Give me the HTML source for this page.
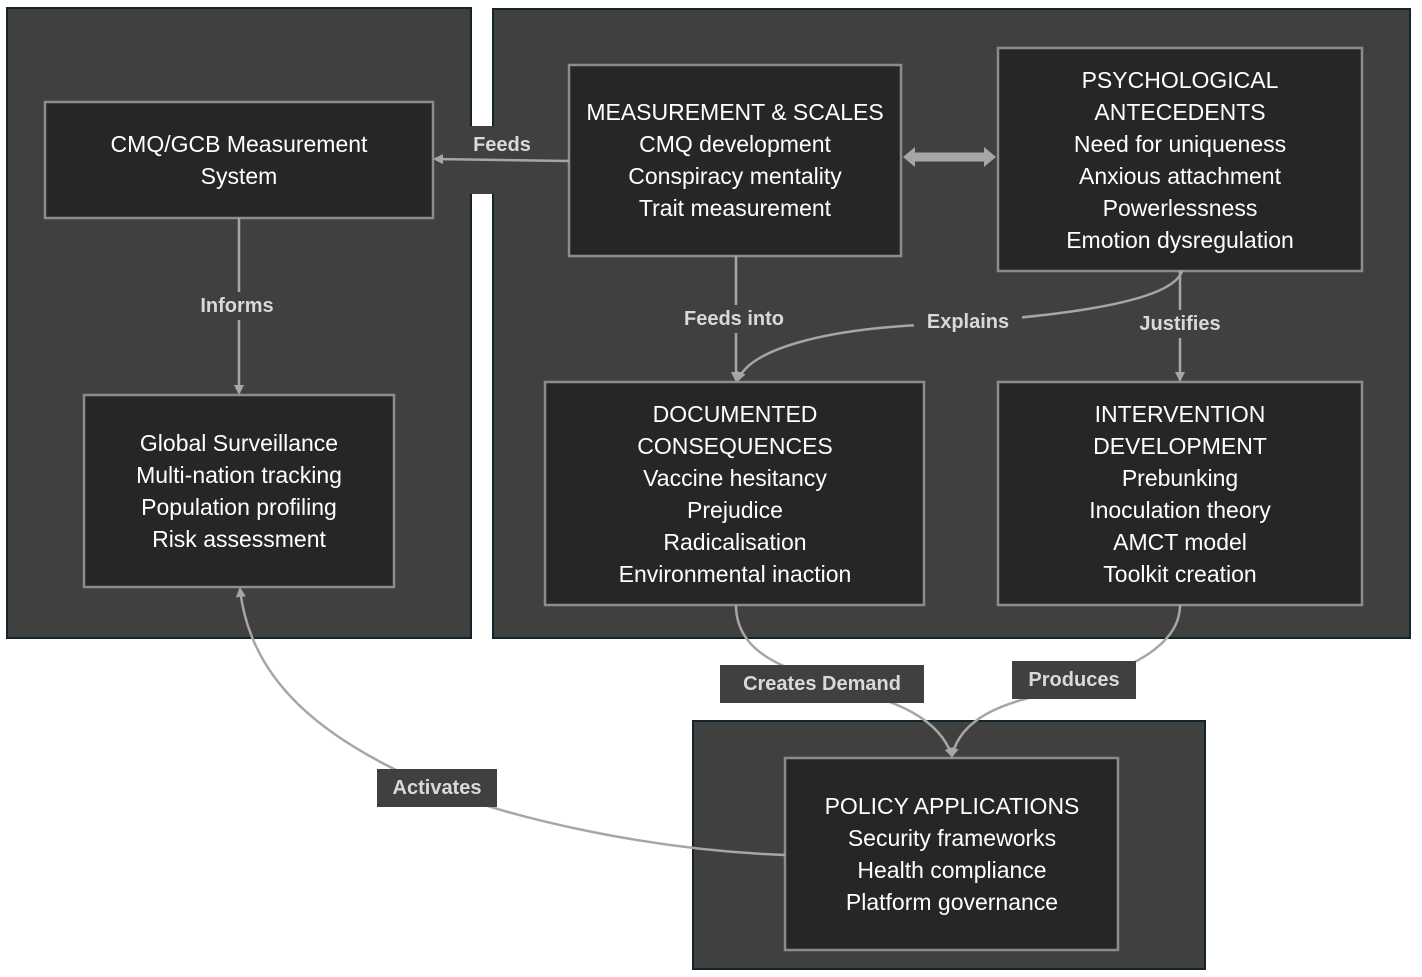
<!DOCTYPE html>
<html><head><meta charset="utf-8"><style>body{margin:0;background:#fff}svg{display:block}</style></head><body>
<svg width="1422" height="977" viewBox="0 0 1422 977" xmlns="http://www.w3.org/2000/svg" font-family="Liberation Sans, sans-serif">
<defs><marker id="a" markerWidth="10" markerHeight="10" refX="8" refY="5" orient="auto" markerUnits="userSpaceOnUse"><path d="M0,0 L10,5 L0,10 z" fill="#a6a6a6"/></marker></defs>
<rect x="7" y="8" width="464" height="630" fill="#404040" stroke="#13232c" stroke-width="2"/>
<rect x="493" y="9" width="917" height="629" fill="#404040" stroke="#13232c" stroke-width="2"/>
<rect x="693" y="721" width="512" height="248" fill="#404040" stroke="#13232c" stroke-width="2"/>
<rect x="466" y="126" width="32" height="68" fill="#404040"/>
<g fill="#262626" stroke="#8c8c8c" stroke-width="2.5">
<rect x="45" y="102" width="388" height="116"/>
<rect x="84" y="395" width="310" height="192"/>
<rect x="569" y="65" width="332" height="191"/>
<rect x="998" y="48" width="364" height="223"/>
<rect x="545" y="382" width="379" height="223"/>
<rect x="998" y="382" width="364" height="223"/>
<rect x="785" y="758" width="333" height="192"/>
</g>
<g fill="none" stroke="#a6a6a6" stroke-width="2.5">
<path d="M569,161 L435,159" marker-end="url(#a)"/>
<path d="M239,218 L239,393" marker-end="url(#a)"/>
<path d="M736,256 L736,380" marker-end="url(#a)"/>
<path d="M1182,271 C1170,310 1000,320 920,325 C820,330 750,350 738,380" marker-end="url(#a)"/>
<path d="M1180,271 L1180,380" marker-end="url(#a)"/>
<path d="M736,605 C736,660 800,670 830,685 C900,700 940,720 952,756" marker-end="url(#a)"/>
<path d="M1180,605 C1180,650 1120,670 1070,690 C1000,700 960,720 952,756" marker-end="url(#a)"/>
<path d="M785,855 C650,850 520,820 440,790 C320,740 250,680 240,589" marker-end="url(#a)"/>
<path d="M912,157 L987,157" stroke-width="9" stroke="#a6a6a6"/>
</g>
<path d="M903,157 L915,147 L915,167 z M996,157 L984,147 L984,167 z" fill="#a6a6a6"/>
<g font-weight="bold" font-size="20" fill="#d9d9d9" text-anchor="middle" dominant-baseline="central">
<text x="502" y="145">Feeds</text>
<rect x="185" y="292" width="104" height="28" fill="#404040"/><text x="237" y="306">Informs</text>
<rect x="672" y="305" width="124" height="28" fill="#404040"/><text x="734" y="319">Feeds into</text>
<rect x="914" y="308" width="108" height="28" fill="#404040"/><text x="968" y="322">Explains</text>
<rect x="1128" y="310" width="104" height="28" fill="#404040"/><text x="1180" y="324">Justifies</text>
<rect x="720" y="665" width="204" height="38" fill="#404040"/><text x="822" y="684">Creates Demand</text>
<rect x="1012" y="661" width="124" height="38" fill="#404040"/><text x="1074" y="680">Produces</text>
<rect x="377" y="769" width="120" height="38" fill="#404040"/><text x="437" y="788">Activates</text>
</g>
<g font-size="23" fill="#fff" text-anchor="middle" dominant-baseline="central">
<text x="239" y="144">CMQ/GCB Measurement</text><text x="239" y="176">System</text>
<text x="239" y="443">Global Surveillance</text><text x="239" y="475">Multi-nation tracking</text><text x="239" y="507">Population profiling</text><text x="239" y="539">Risk assessment</text>
<text x="735" y="112">MEASUREMENT &amp; SCALES</text><text x="735" y="144">CMQ development</text><text x="735" y="176">Conspiracy mentality</text><text x="735" y="208">Trait measurement</text>
<text x="1180" y="80">PSYCHOLOGICAL</text><text x="1180" y="112">ANTECEDENTS</text><text x="1180" y="144">Need for uniqueness</text><text x="1180" y="176">Anxious attachment</text><text x="1180" y="208">Powerlessness</text><text x="1180" y="240">Emotion dysregulation</text>
<text x="735" y="414">DOCUMENTED</text><text x="735" y="446">CONSEQUENCES</text><text x="735" y="478">Vaccine hesitancy</text><text x="735" y="510">Prejudice</text><text x="735" y="542">Radicalisation</text><text x="735" y="574">Environmental inaction</text>
<text x="1180" y="414">INTERVENTION</text><text x="1180" y="446">DEVELOPMENT</text><text x="1180" y="478">Prebunking</text><text x="1180" y="510">Inoculation theory</text><text x="1180" y="542">AMCT model</text><text x="1180" y="574">Toolkit creation</text>
<text x="952" y="806">POLICY APPLICATIONS</text><text x="952" y="838">Security frameworks</text><text x="952" y="870">Health compliance</text><text x="952" y="902">Platform governance</text>
</g>
</svg>
</body></html>
